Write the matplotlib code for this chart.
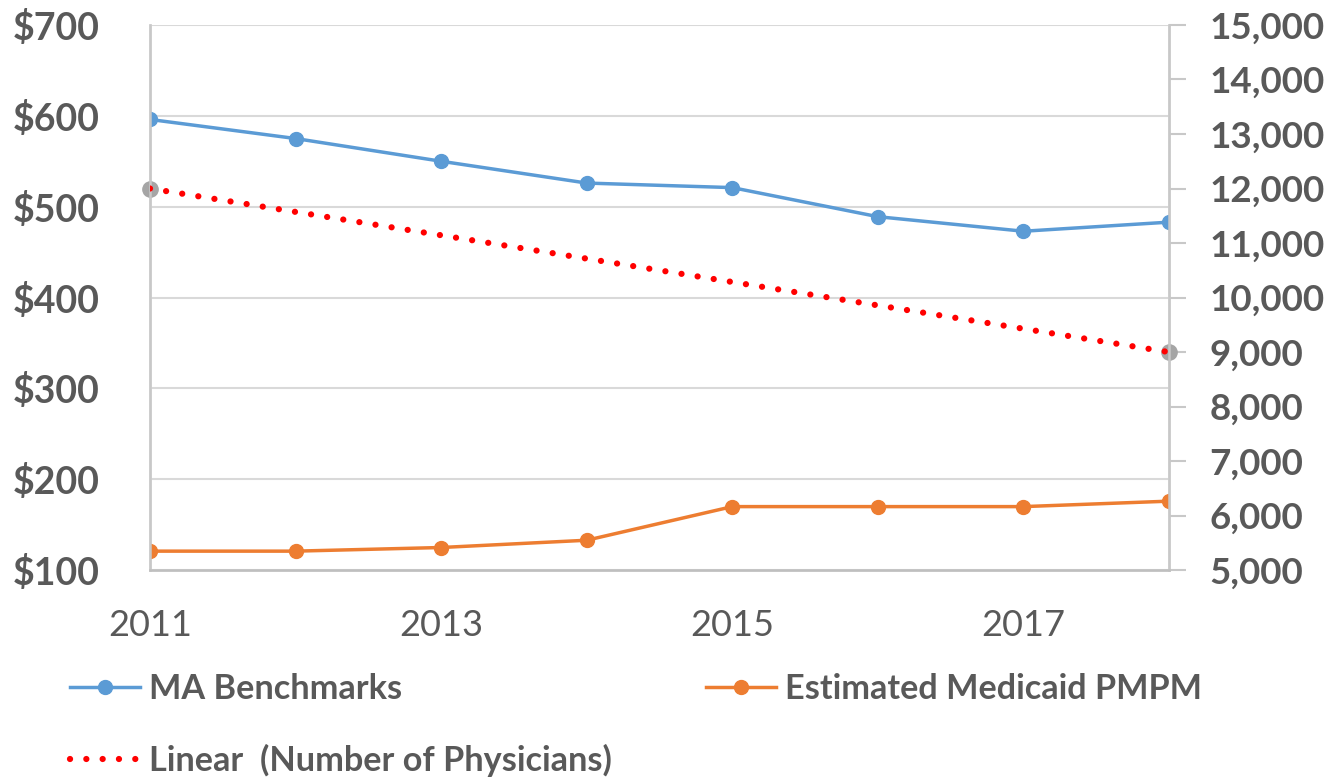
import numpy as np
import matplotlib.pyplot as plt
from matplotlib.lines import Line2D

plt.rcParams['font.family'] = ['Lato', 'DejaVu Sans']

years = [2011, 2012, 2013, 2014, 2015, 2016, 2017, 2018]
ma_benchmarks = [596, 575, 550, 526, 521, 489, 473, 483]
medicaid_pmpm = [121, 121, 125, 133, 170, 170, 170, 176]
phys_years = [2011, 2018]
physicians = [12000, 9000]

left_ticks = [100, 200, 300, 400, 500, 600, 700]
right_ticks = [5000, 6000, 7000, 8000, 9000, 10000, 11000, 12000, 13000, 14000, 15000]

txt = '#595959'
grid = '#d9d9d9'
blue = '#5b9bd5'
orange = '#ed7d31'

fig = plt.figure(figsize=(13.33, 7.79), dpi=100)
ax = fig.add_axes([0.1125, 0.268, 0.7645, 0.7])
ax2 = ax.twinx()

ax.plot(years, ma_benchmarks, color=blue, lw=2.5, marker='o', ms=10, zorder=3)
ax.plot(years, medicaid_pmpm, color=orange, lw=2.5, marker='o', ms=10, zorder=3)

# number of physicians (only two points) + linear trendline
ax2.plot(phys_years, physicians, ls='none', marker='o', ms=11, color='#a5a5a5',
         zorder=2, clip_on=False)
coef = np.polyfit(phys_years, physicians, 1)
xs = np.array([years[0], years[-1]])
ax2.plot(xs, np.polyval(coef, xs), color='red', lw=4.5, ls=(0, (0.01, 2.6)),
         dash_capstyle='round', zorder=3)

ax.set_xlim(2011, 2018)
ax.set_ylim(100, 700)
ax2.set_ylim(5000, 15000)
ax.set_xticks([2011, 2013, 2015, 2017])
ax.set_yticks(left_ticks)
ax.set_yticklabels(['$%d' % v for v in left_ticks])
ax2.set_yticks(right_ticks)
ax2.set_yticklabels(['{:,}'.format(v) for v in right_ticks])

ax.grid(axis='y', color=grid, lw=1.5)
ax.set_axisbelow(True)
for a in (ax, ax2):
    for s in a.spines.values():
        s.set_color(grid)
        s.set_linewidth(1.8)
    a.spines['top'].set_visible(False)
ax2.spines['left'].set_color('#c8c8c8')
ax2.spines['right'].set_color('#c8c8c8')
ax2.spines['bottom'].set_color('#bfbfbf')

ax.tick_params(axis='y', length=0, pad=36, labelsize=27, labelcolor=txt)
for t in ax.get_yticklabels():
    t.set_fontweight('bold')
ax.tick_params(axis='x', length=0, pad=28, labelsize=26, labelcolor=txt)
ax2.tick_params(axis='y', length=12, width=1.5, color='#c8c8c8', pad=17,
                labelsize=26.5, labelcolor=txt)
for t in ax2.get_yticklabels():
    t.set_fontweight('bold')

handles = [
    Line2D([], [], color=blue, lw=2.5, marker='o', ms=10),
    Line2D([], [], color='red', lw=4.5, ls=(0, (0.01, 2.6)), dash_capstyle='round'),
    Line2D([], [], color=orange, lw=2.5, marker='o', ms=10),
]
labels = ['MA Benchmarks', 'Linear  (Number of Physicians)', 'Estimated Medicaid PMPM']
leg = fig.legend(handles, labels, ncol=2, loc='upper left', bbox_to_anchor=(0.0395, 0.158),
                 frameon=False, handlelength=2.05, handletextpad=0.25, columnspacing=2.75,
                 labelspacing=1.12, borderpad=0, prop={'size': 24.7, 'weight': 'bold'})
for t in leg.get_texts():
    t.set_color(txt)

fig.savefig('out.png', dpi=100)
